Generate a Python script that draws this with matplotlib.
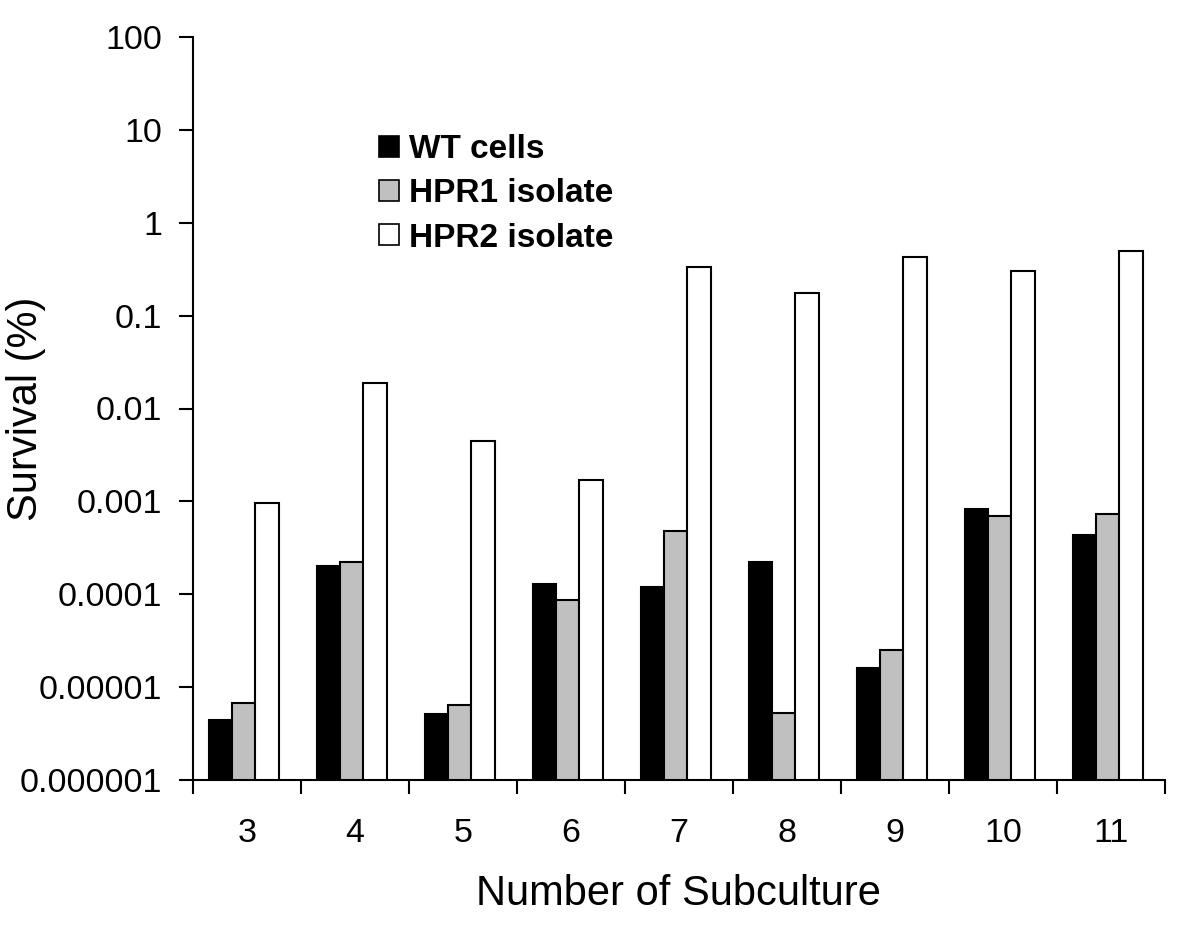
import matplotlib
matplotlib.use("Agg")
import matplotlib.pyplot as plt
from matplotlib.patches import Patch
from matplotlib.ticker import FixedLocator, FixedFormatter, NullLocator
import numpy as np

plt.rcParams['font.family'] = ['Liberation Sans', 'DejaVu Sans']

subcultures = ["3", "4", "5", "6", "7", "8", "9", "10", "11"]
wt_cells = [4.4e-6, 2.0e-4, 5.1e-6, 1.29e-4, 1.2e-4, 2.2e-4, 1.6e-5, 8.3e-4, 4.3e-4]
hpr1_isolate = [6.7e-6, 2.2e-4, 6.4e-6, 8.6e-5, 4.8e-4, 5.3e-6, 2.5e-5, 7.0e-4, 7.3e-4]
hpr2_isolate = [9.5e-4, 0.0187, 0.0045, 0.0017, 0.33, 0.175, 0.43, 0.30, 0.50]
series_names = ["WT cells", "HPR1 isolate", "HPR2 isolate"]
colors = ["#000000", "#c0c0c0", "#ffffff"]
ytick_vals = [1e-6, 1e-5, 1e-4, 1e-3, 1e-2, 1e-1, 1, 10, 100]
ytick_labels = ["0.000001", "0.00001", "0.0001", "0.001", "0.01", "0.1", "1", "10", "100"]

fig = plt.figure(figsize=(12, 9.31), dpi=100)
ax = fig.add_axes([193/1200, 1-780/931, 972/1200, 743/931])

x = np.arange(len(subcultures))
w = 0.215
bottom = 1e-6
for i, (vals, c) in enumerate(zip([wt_cells, hpr1_isolate, hpr2_isolate], colors)):
    vals = np.array(vals)
    ax.bar(x + (i - 1) * w - 0.03, vals - bottom, w, bottom=bottom, color=c,
           edgecolor="black", linewidth=1.5, zorder=3)

ax.set_yscale("log")
ax.set_ylim(1e-6, 100)
ax.set_xlim(-0.5, len(subcultures) - 0.5)
ax.yaxis.set_major_locator(FixedLocator(ytick_vals))
ax.yaxis.set_major_formatter(FixedFormatter(ytick_labels))
ax.yaxis.set_minor_locator(NullLocator())
ax.set_xticks(x)
ax.set_xticklabels(subcultures)
ax.set_xticks(np.arange(-0.5, len(subcultures)), minor=True)
ax.tick_params(axis="x", which="major", length=0, pad=27, labelsize=24.5)
ax.tick_params(axis="x", which="minor", length=10, width=1.5, direction="out")
ax.tick_params(axis="y", which="major", length=10, width=1.5, direction="out", pad=12, labelsize=24.5)

for s in ["top", "right"]:
    ax.spines[s].set_visible(False)
for s in ["left", "bottom"]:
    ax.spines[s].set_linewidth(1.5)

ax.set_ylabel("Survival (%)", fontsize=30, va="center")
ax.yaxis.set_label_coords((26 - 193) / 972, 0.5)
ax.set_xlabel("Number of Subculture", fontsize=30)
ax.xaxis.set_label_coords((678 - 193) / 972, (780 - 874) / 743)

handles = [Patch(facecolor=c, edgecolor="black", linewidth=1.2) for c in colors]
leg = ax.legend(handles, series_names, loc="upper left", bbox_to_anchor=(0.160, 0.91),
                frameon=False, handlelength=0.6, handleheight=0.6, handletextpad=0.3,
                labelspacing=0.4, prop={"weight": "bold", "size": 24})

fig.savefig("out.png", dpi=100)
